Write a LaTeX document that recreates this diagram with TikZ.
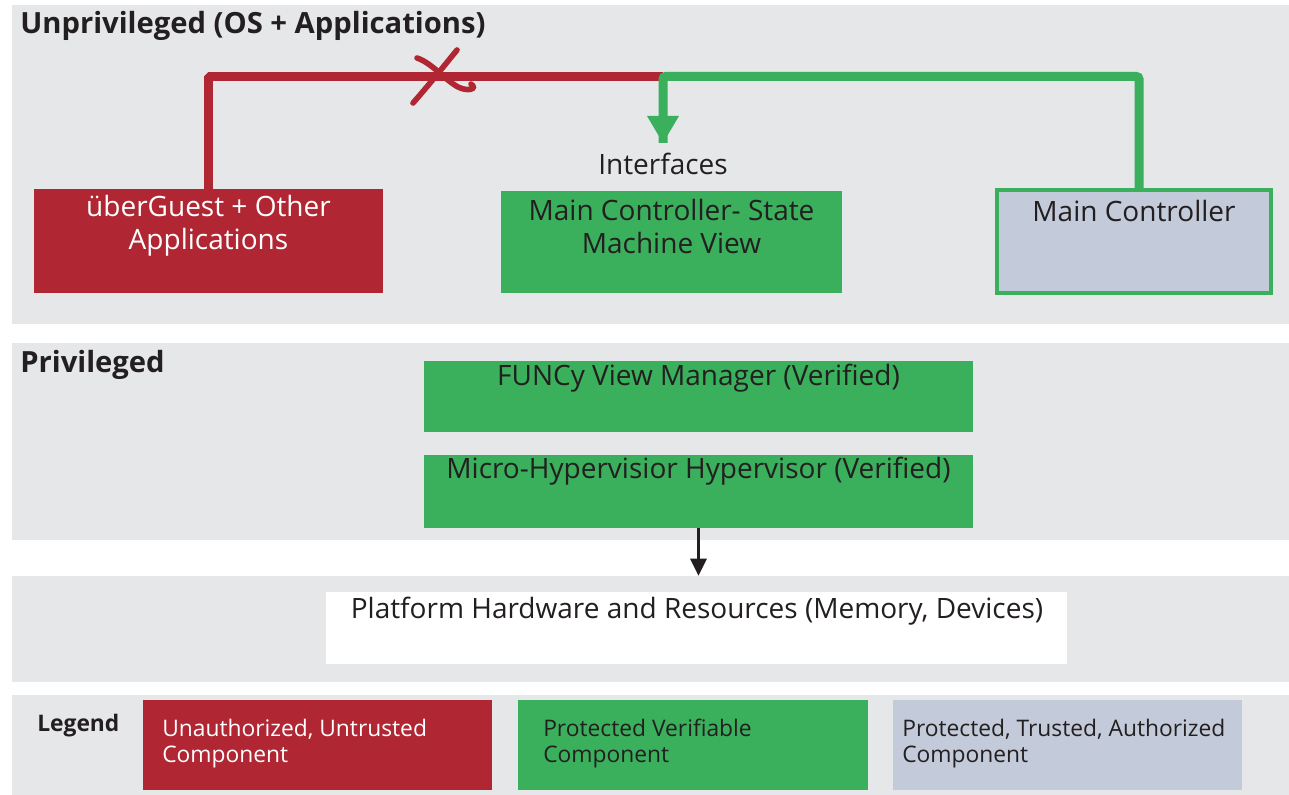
\documentclass[tikz,border=0pt]{standalone}
\usepackage{fontspec}
\setmainfont{Open Sans}
\usetikzlibrary{arrows.meta,fit,calc}

\definecolor{panelgray}{HTML}{E6E7E9}
\definecolor{untrusted}{HTML}{B02733}
\definecolor{verified}{HTML}{3AAF5C}
\definecolor{trusted}{HTML}{C3CAD9}
\definecolor{ink}{HTML}{231F20}

\tikzset{
  layer/.style={fill=panelgray, inner sep=0pt, draw=none},
  block/.style={inner sep=0pt, draw=none},
  boxtext/.style={text=ink, align=center, inner sep=0pt,
    font=\fontsize{21pt}{24.75pt}\selectfont},
  legtext/.style={text=ink, align=left, anchor=west, inner sep=0pt,
    font=\fontsize{17.1pt}{19.5pt}\selectfont},
  heading/.style={text=ink, anchor=west, inner sep=0pt,
    font=\fontsize{21.9pt}{26pt}\selectfont\bfseries},
  redwire/.style={untrusted, line width=6.75pt, line join=bevel},
  greenwire/.style={verified, line width=6.75pt, rounded corners=2pt},
  crossmark/.style={untrusted, line width=4.2pt, line cap=round},
}

\begin{document}
\begin{tikzpicture}[x=0.75pt,y=-0.75pt]
\useasboundingbox (0,0) rectangle (1289,795);
\fill[white] (0,0) rectangle (1289,795);

% layers
\node[layer, fit={(12,5) (1289,324)}] (unpriv) {};
\node[layer, fit={(12,343) (1289,540)}] (priv) {};
\node[layer, fit={(12,576) (1289,682)}] (hwlayer) {};
\node[layer, fit={(12,695) (1289,795)}] (legend) {};

\node[heading] (unprivT) at (20,25.5) {Unprivileged (OS + Applications)};
\node[heading] (privT) at (20,364.5) {Privileged};

% unprivileged components
\node[block, fill=untrusted, fit={(34,189) (383,293)}] (guest) {};
\node[boxtext, text=white] (guestT) at (208.5,226) {überGuest + Other\\Applications};

\node[block, fill=verified, fit={(501,191) (842,293)}] (smv) {};
\node[boxtext] (smvT) at (671.5,226) {Main Controller- State\\Machine View};

\node[block, fill=trusted, draw=verified, line width=3pt, fit={(997,190) (1271,293)}] (mc) {};
\node[boxtext] (mcT) at (1134,211) {Main Controller};

\node[boxtext] (ifaceT) at (663,164) {Interfaces};

% wires
\coordinate (junc) at (663,76.5);
\coordinate (iface) at (663,143);
\draw[redwire] (guest.north) |- (junc);
\draw[greenwire] ($(mc.north)+(5,0)$) |- (junc) -- (iface);
\fill[verified] (647,116) -- (679,116) -- (iface) -- cycle;

% blocked access mark
\draw[crossmark] (413,103) .. controls (428,86) and (444,66) .. (457,50);
\draw[crossmark] (417,58) .. controls (432,63) and (445,80) .. (458,87)
  .. controls (468,92) and (478,89) .. (471,84);

% privileged components
\node[block, fill=verified, fit={(424,361) (973,432)}] (funcy) {};
\node[boxtext] (funcyT) at (698.5,378) {FUNCy View Manager (Verified)};
\node[block, fill=verified, fit={(424,455) (973,528)}] (uhv) {};
\node[boxtext] (uhvT) at (698.5,471) {Micro-Hypervisior Hypervisor (Verified)};

\draw[ink, line width=2.25pt, -{Triangle[length=12.75pt, width=12pt]}]
  (uhv.south) -- (uhv.south |- hwlayer.north);

% hardware
\node[block, fill=white, fit={(326,592) (1067,664)}] (hw) {};
\node[boxtext] (hwT) at (697,611) {Platform Hardware and Resources (Memory, Devices)};

% legend
\node[heading, font=\fontsize{17.1pt}{20pt}\selectfont\bfseries] (legendT) at (37,726) {Legend};
\node[block, fill=untrusted, fit={(143,700) (492,790)}] (legU) {};
\node[legtext, text=white] (legUT) at (162,744) {Unauthorized, Untrusted\\Component};
\node[block, fill=verified, fit={(518,700) (868,790)}] (legV) {};
\node[legtext] (legVT) at (543,744) {Protected Verifiable\\Component};
\node[block, fill=trusted, fit={(893,700) (1242,790)}] (legT) {};
\node[legtext] (legTT) at (902,744) {Protected, Trusted, Authorized\\Component};
\end{tikzpicture}
\end{document}
